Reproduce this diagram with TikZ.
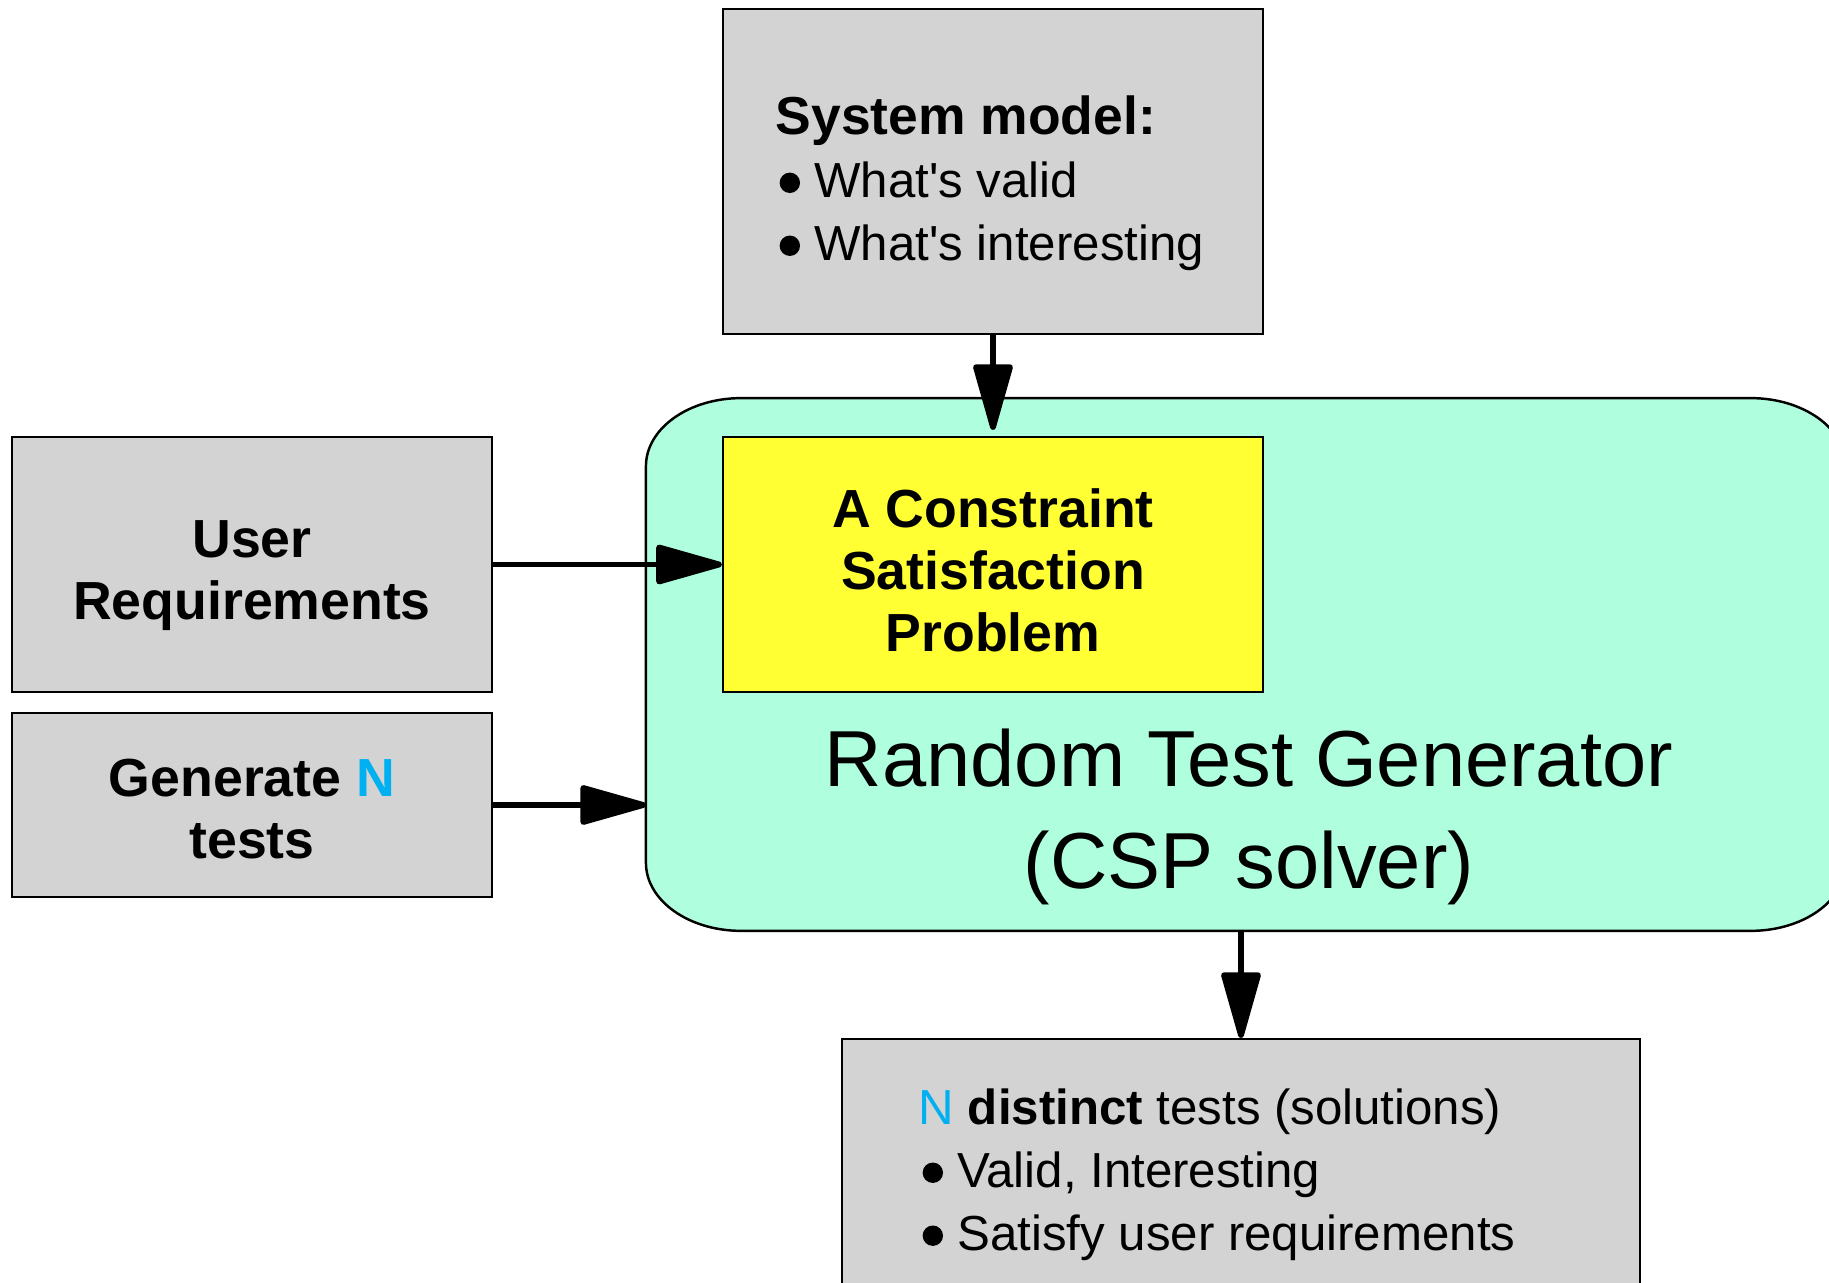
\documentclass[tikz,border=0pt]{standalone}
\usepackage{fontspec}
\setmainfont{Liberation Sans}
\usetikzlibrary{arrows.meta}

\definecolor{boxgrey}{RGB}{211,211,211}
\definecolor{solvergreen}{RGB}{175,255,222}
\definecolor{cspyellow}{RGB}{255,255,51}
\definecolor{countblue}{RGB}{0,176,240}

% bullet for the item lines, and the coloured N
\newcommand{\dotmark}{\hspace{0.08em}\tikz[baseline=-0.56ex]\fill (0,0) circle (2.9pt);\hspace{0.29em}}
\newcommand{\countN}{\textcolor{countblue}{N}}

\begin{document}
\begin{tikzpicture}
		[x=0.01cm, y=0.01cm,
		greybox/.style={rectangle,draw=black,fill=boxgrey,line width=0.6pt,inner sep=0pt},
		cspbox/.style={rectangle,draw=black,fill=cspyellow,line width=0.6pt,inner sep=0pt},
		solverline/.style={draw=black,fill=solvergreen,line width=0.7pt},
		boxlabel/.style={align=center,inner sep=0pt,font=\fontsize{15.25}{17.6}\selectfont\bfseries},
		bodytext/.style={anchor=north west,inner sep=0pt,align=left,font=\fontsize{14}{17.9}\selectfont},
		solvertext/.style={anchor=north,inner sep=0pt,align=center,font=\fontsize{22.6}{29}\selectfont},
		flow/.style={-{Triangle[length=0.74cm,width=0.40cm,round]},line width=1.7pt}]
		\useasboundingbox (0,0) rectangle (1829,-1283);
		% solver frame with wide rounded corners
		\node at (1246, -664.5) (rtg) [minimum width=11.98cm,minimum height=5.31cm,inner sep=0pt] {};
		\draw[solverline] ([xshift=0.95cm]rtg.north west) -- ([xshift=-0.95cm]rtg.north east)
			arc[start angle=90,end angle=0,x radius=0.95cm,y radius=0.68cm]
			-- ([yshift=0.68cm]rtg.south east)
			arc[start angle=0,end angle=-90,x radius=0.95cm,y radius=0.68cm]
			-- ([xshift=0.95cm]rtg.south west)
			arc[start angle=270,end angle=180,x radius=0.95cm,y radius=0.68cm]
			-- ([yshift=-0.68cm]rtg.north west)
			arc[start angle=180,end angle=90,x radius=0.95cm,y radius=0.68cm] -- cycle;
		\node at (1249, -728) (rtgtext) [solvertext] {Random Test Generator\\(CSP solver)};
		% inputs
		\node at (993, -171.5) (sys) [greybox,minimum width=5.40cm,minimum height=3.25cm] {};
		\node at (775, -95) (systext) [bodytext]
			{{\fontsize{15.2}{17.9}\selectfont\bfseries System model:}\\\dotmark What\textquotesingle s valid\\\dotmark What\textquotesingle s interesting};
		\node at (993, -564.5) (csp) [cspbox,minimum width=5.40cm,minimum height=2.55cm] {};
		\node at ([yshift=-0.055cm]csp.center) (csptext) [boxlabel] {A Constraint\\Satisfaction\\Problem};
		\node at (252, -564.5) (user) [greybox,minimum width=4.80cm,minimum height=2.55cm] {};
		\node at ([yshift=-0.11cm]user.center) (usertext) [boxlabel] {User\\Requirements};
		\node at (252, -805) (gen) [greybox,minimum width=4.80cm,minimum height=1.84cm] {};
		\node at ([yshift=-0.04cm]gen.center) (gentext) [boxlabel] {Generate \countN\\tests};
		% output
		\node at (1241, -1180) (out) [greybox,minimum width=7.98cm,minimum height=2.82cm] {};
		\node at (918, -1088) (outtext) [bodytext]
			{\countN{} \textbf{distinct} tests (solutions)\\\dotmark Valid, Interesting\\\dotmark Satisfy user requirements};
		% connectors
		\draw[flow] (sys.south) -- ([yshift=0.06cm]csp.north);
		\draw[flow] (user.east) -- (csp.west);
		\draw[flow] (gen.east) -- (gen.east -| rtg.west);
		\draw[flow] (rtg.south -| out.north) -- (out.north);
	\end{tikzpicture}
\end{document}
